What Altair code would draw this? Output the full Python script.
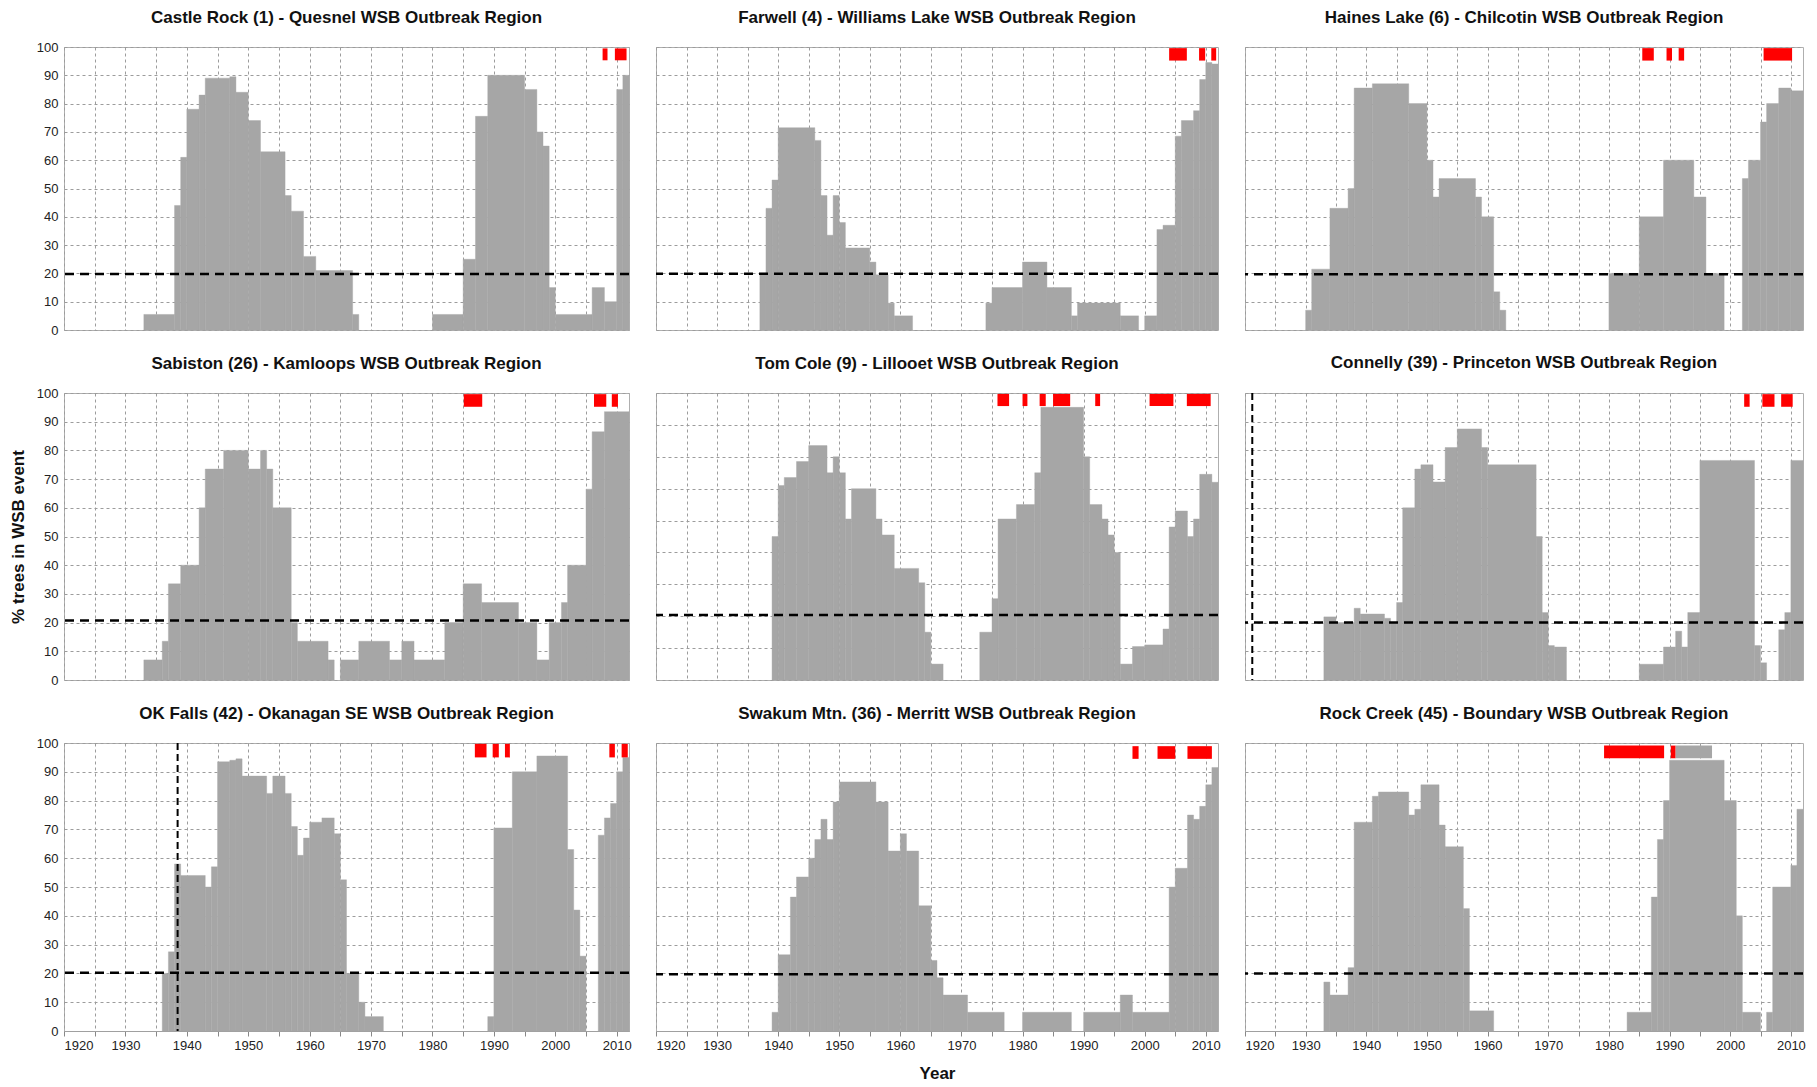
import altair as alt
import pandas as pd

FONT = "Liberation Sans"
GRAY = "#A6A6A6"
RED = "#FF0000"

TITLES = [
    "Castle Rock (1) - Quesnel WSB Outbreak Region",
    "Farwell (4) - Williams Lake WSB Outbreak Region",
    "Haines Lake (6) - Chilcotin WSB Outbreak Region",
    "Sabiston (26) - Kamloops WSB Outbreak Region",
    "Tom Cole (9) - Lillooet WSB Outbreak Region",
    "Connelly (39) - Princeton WSB Outbreak Region",
    "OK Falls (42) - Okanagan SE WSB Outbreak Region",
    "Swakum Mtn. (36) - Merritt WSB Outbreak Region",
    "Rock Creek (45) - Boundary WSB Outbreak Region",
]

# step edges (years) and % of trees for each interval edges[i]..edges[i+1]
castle_edges = [1933, 1938, 1939, 1940, 1942, 1943, 1947, 1948, 1950, 1952, 1956, 1957, 1959, 1961, 1967,
                1968, 1980, 1985, 1987, 1989, 1995, 1997, 1998, 1999, 2000, 2006, 2008, 2010, 2011, 2012]
castle_pct = [5.5, 44, 61, 78, 83, 89, 89.5, 84, 74, 63, 47.5, 42, 26, 21, 5.5,
              0, 5.5, 25, 75.5, 90, 85, 70, 65, 15, 5.5, 15, 10, 85, 90]
castle_red_start = [2007.7, 2009.7]
castle_red_end = [2008.5, 2011.6]

farwell_edges = [1937, 1938, 1939, 1940, 1946, 1947, 1948, 1949, 1950, 1951, 1955, 1956, 1958, 1959, 1962,
                 1974, 1975, 1980, 1984, 1988, 1989, 1996, 1999, 2000, 2002, 2003, 2005, 2006, 2008, 2009,
                 2010, 2011, 2012]
farwell_pct = [20, 43, 53, 71.5, 67, 47.5, 33.5, 47.5, 38, 29, 24, 19.5, 9.5, 5, 0,
               9.5, 15, 24, 15, 5, 9.5, 5, 0, 5, 35.5, 37, 68.5, 74, 77.5, 88.5, 94.5, 94]
farwell_red_start = [2004.0, 2008.9, 2010.9]
farwell_red_end = [2006.9, 2009.9, 2011.7]

haines_edges = [1930, 1931, 1934, 1937, 1938, 1941, 1947, 1950, 1951, 1952, 1958, 1959, 1961, 1962, 1963,
                1980, 1985, 1989, 1994, 1996, 1999, 2002, 2003, 2005, 2006, 2008, 2010, 2012]
haines_pct = [7, 21.5, 43, 50, 85.5, 87, 80, 60, 47, 53.5, 47, 40, 13.5, 7, 0,
              20, 40, 60, 47, 20, 0, 53.5, 60, 73.5, 80, 85.5, 84.5]
haines_red_start = [1985.5, 1989.5, 1991.5, 2005.5]
haines_red_end = [1987.4, 1990.4, 1992.4, 2010.2]

sabiston_edges = [1933, 1936, 1937, 1939, 1942, 1943, 1946, 1950, 1952, 1953, 1954, 1957, 1958, 1963, 1964,
                  1965, 1968, 1973, 1975, 1977, 1982, 1985, 1988, 1994, 1997, 1999, 2001, 2002, 2005, 2006,
                  2008, 2012]
sabiston_pct = [7, 13.5, 33.5, 40, 60, 73.5, 80, 73.5, 80, 73.5, 60, 20, 13.5, 7, 0,
                7, 13.5, 7, 13.5, 7, 20, 33.5, 27, 20, 7, 20, 27, 40, 66.5, 86.5, 93.5]
sabiston_red_start = [1985.1, 2006.3, 2009.2]
sabiston_red_end = [1988.1, 2008.3, 2010.2]

tomcole_edges = [1939, 1940, 1941, 1943, 1945, 1948, 1949, 1950, 1951, 1952, 1956, 1957, 1959, 1963, 1964,
                 1965, 1967, 1973, 1975, 1976, 1979, 1982, 1983, 1990, 1991, 1993, 1994, 1995, 1996, 1998,
                 2000, 2003, 2004, 2005, 2007, 2008, 2009, 2011, 2012]
tomcole_pct = [45, 61, 63.5, 68.5, 73.5, 65, 70, 65, 50.5, 60, 50.5, 45.5, 35, 30.5, 15,
               5, 0, 15, 25.5, 50.5, 55, 65, 85.5, 70, 55, 50.5, 45.5, 40, 5, 10.5,
               11, 16, 48, 53, 45, 50.5, 64.5, 62]
tomcole_red_start = [1975.9, 1980.0, 1982.8, 1985.0, 1991.9, 2000.8, 2006.9]
tomcole_red_end = [1977.8, 1980.8, 1983.8, 1987.8, 1992.7, 2004.7, 2010.8]

connelly_edges = [1933, 1935, 1938, 1939, 1943, 1944, 1945, 1946, 1948, 1949, 1951, 1953, 1955, 1959, 1960,
                  1968, 1969, 1970, 1971, 1973, 1985, 1989, 1991, 1992, 1993, 1995, 2004, 2005, 2006, 2008,
                  2009, 2010, 2012]
connelly_pct = [22, 20, 25, 23, 21.5, 20, 27, 60, 73.5, 75, 69, 81, 87.5, 81, 75,
                50, 23.5, 12, 11.5, 0, 5.5, 11.5, 17, 11.5, 23.5, 76.5, 12, 6, 0, 17.5, 23.5, 76.5]
connelly_red_start = [2002.3, 2005.3, 2008.4]
connelly_red_end = [2003.2, 2007.3, 2010.3]

okfalls_edges = [1936, 1937, 1938, 1939, 1943, 1944, 1945, 1947, 1948, 1949, 1953, 1954, 1956, 1957, 1958,
                 1959, 1960, 1962, 1964, 1965, 1966, 1968, 1969, 1972, 1989, 1990, 1993, 1997, 2002, 2003,
                 2004, 2005, 2007, 2008, 2009, 2010, 2011, 2012]
okfalls_pct = [20, 27.5, 58, 54, 50, 57, 93.5, 94, 94.5, 88.5, 82.5, 88.5, 82.5, 71, 61,
               67, 72.5, 74, 68.5, 52.5, 20, 10, 5, 0, 5, 70.5, 90, 95.5, 63, 42,
               26, 0, 68, 74, 79, 90, 95]
okfalls_red_start = [1986.9, 1989.8, 1991.8, 2008.8, 2010.8]
okfalls_red_end = [1988.8, 1990.8, 1992.6, 2009.7, 2011.8]

swakum_edges = [1939, 1940, 1942, 1943, 1945, 1946, 1947, 1948, 1949, 1950, 1956, 1958, 1960, 1961, 1963,
                1965, 1966, 1967, 1971, 1977, 1980, 1988, 1990, 1996, 1998, 2004, 2005, 2007, 2008, 2009,
                2010, 2011, 2012]
swakum_pct = [6.5, 26.5, 46.5, 53.5, 60, 66.5, 73.5, 66.5, 79.5, 86.5, 79.5, 62.5, 68.5, 62.5, 43.5,
              24.5, 18.5, 12.5, 6.5, 0, 6.5, 0, 6.5, 12.5, 6.5, 50, 56.5, 75, 73.5, 78, 85.5, 91.5]
swakum_red_start = [1998.0, 2002.1, 2007.0]
swakum_red_end = [1999.0, 2005.0, 2011.0]

rock_edges = [1933, 1934, 1937, 1938, 1941, 1942, 1947, 1948, 1949, 1952, 1953, 1956, 1957, 1961, 1983,
              1987, 1988, 1989, 1990, 1999, 2001, 2002, 2005, 2006, 2007, 2010, 2011, 2012]
rock_pct = [17, 12.5, 22, 72.5, 81.5, 83, 75, 77, 85.5, 71.5, 64, 42.5, 7, 0,
            6.5, 46.5, 66.5, 80, 94, 80, 40, 6.5, 0, 6.5, 50, 57.5, 77]
rock_red_start = [1979.2, 1990.2]
rock_red_end = [1989.1, 1991.0]
rock_gray_start = [1991.0]
rock_gray_end = [1997.0]

EDGES = [castle_edges, farwell_edges, haines_edges, sabiston_edges, tomcole_edges,
         connelly_edges, okfalls_edges, swakum_edges, rock_edges]
PCTS = [castle_pct, farwell_pct, haines_pct, sabiston_pct, tomcole_pct,
        connelly_pct, okfalls_pct, swakum_pct, rock_pct]
RED_START = [castle_red_start, farwell_red_start, haines_red_start, sabiston_red_start, tomcole_red_start,
             connelly_red_start, okfalls_red_start, swakum_red_start, rock_red_start]
RED_END = [castle_red_end, farwell_red_end, haines_red_end, sabiston_red_end, tomcole_red_end,
           connelly_red_end, okfalls_red_end, swakum_red_end, rock_red_end]
THRESHOLDS = [19.8, 19.9, 19.7, 20.7, 20.4, 20.0, 20.2, 19.7, 20.0]
Y_MAX = [100, 100, 100, 100, 90, 100, 100, 100, 100]
MARK_LO = [95.3, 95.2, 95.2, 95.2, 85.9, 95.2, 95.0, 94.5, 94.7]
MARK_HI = [99.5, 99.6, 99.6, 99.6, 89.7, 99.6, 99.7, 98.9, 99.1]
VLINES = {5: 1921.2, 6: 1938.5}

WIDTHS = [565, 562, 558]
HEIGHTS = [283, 287, 288]


def make_panel(i):
    row, col = divmod(i, 3)
    ymax = Y_MAX[i]
    edges, pct = EDGES[i], PCTS[i]
    seg = pd.DataFrame({"start": edges[:-1], "end": edges[1:], "pct": pct})
    seg = seg[seg["pct"] > 0].copy()
    seg["base"] = 0.0

    ev_start = list(RED_START[i])
    ev_end = list(RED_END[i])
    ev_col = [RED] * len(ev_start)
    if i == 8:
        ev_start += rock_gray_start
        ev_end += rock_gray_end
        ev_col += [GRAY] * len(rock_gray_start)
    ev = pd.DataFrame({"start": ev_start, "end": ev_end, "c": ev_col})
    ev["pct"] = MARK_LO[i]
    ev["base"] = MARK_HI[i]

    xscale = alt.Scale(domain=[1920, 2012], nice=False, zero=False)
    yscale = alt.Scale(domain=[0, ymax], nice=False, zero=True)

    xkw = dict(values=list(range(1920, 2011, 5)), grid=True, format="d")
    if row == 2:
        xkw.update(labels=True, ticks=True, tickSize=5, tickColor="#888888", domain=True,
                   domainColor="#A0A0A0", labelExpr="datum.value % 10 == 0 ? datum.label : ''",
                   labelPadding=3, labelFontSize=13, labelColor="#222222")
        if col == 1:
            xkw.update(title="Year", titleFontSize=17, titleFontWeight="bold", titlePadding=13,
                       titleColor="#111111")
        else:
            xkw.update(title=None)
    else:
        xkw.update(labels=False, ticks=False, domain=False, title=None)
    xaxis = alt.Axis(**xkw)

    ykw = dict(values=list(range(0, ymax + 1, 10)), grid=True, ticks=False, domain=False)
    if col == 0:
        ykw.update(labels=True, labelFontSize=13, labelColor="#222222", labelPadding=6,
                   title="% trees in WSB event", titleFontSize=17, titleFontWeight="bold",
                   titlePadding=9, titleColor="#111111" if row == 1 else "transparent")
    else:
        ykw.update(labels=False, title=None)
    yaxis = alt.Axis(**ykw)

    X = alt.X("start:Q", scale=xscale, axis=xaxis)
    Y = alt.Y("pct:Q", scale=yscale, axis=yaxis)

    bars = alt.Chart(seg).mark_rect(color=GRAY, stroke=GRAY, strokeWidth=0.4).encode(
        x=X, x2="end:Q", y=Y, y2="base:Q")
    marks = alt.Chart(ev).mark_rect().encode(
        x=X, x2="end:Q", y=Y, y2="base:Q", color=alt.Color("c:N", scale=None))
    thr = alt.Chart(pd.DataFrame({"pct": [THRESHOLDS[i]]})).mark_rule(
        color="black", strokeWidth=2.5, strokeDash=[9, 6]).encode(y=Y)
    layers = [bars, marks, thr]
    if i in VLINES:
        vl = alt.Chart(pd.DataFrame({"start": [VLINES[i]]})).mark_rule(
            color="black", strokeWidth=2, strokeDash=[7, 4]).encode(x=X)
        layers.append(vl)

    return alt.layer(*layers).properties(
        width=WIDTHS[col], height=HEIGHTS[row],
        title=alt.TitleParams(TITLES[i], fontSize=17, fontWeight="bold", font=FONT,
                              color="#111111", anchor="middle", offset=14 if col == 0 else 20),
    )


panels = [make_panel(i) for i in range(9)]

chart = alt.concat(*panels, columns=3, align="each", bounds="flush",
                   spacing={"row": 63, "column": 27}).properties(
    padding={"left": 0, "top": 0, "right": 0, "bottom": 0}
).configure_view(
    stroke="#AFAFAF", strokeWidth=1
).configure_axis(
    labelFont=FONT, titleFont=FONT, gridColor="#9C9C9C", gridDash=[3, 3], gridWidth=1
)

chart.save("out.html", embed_options={"renderer": "svg", "actions": False})
